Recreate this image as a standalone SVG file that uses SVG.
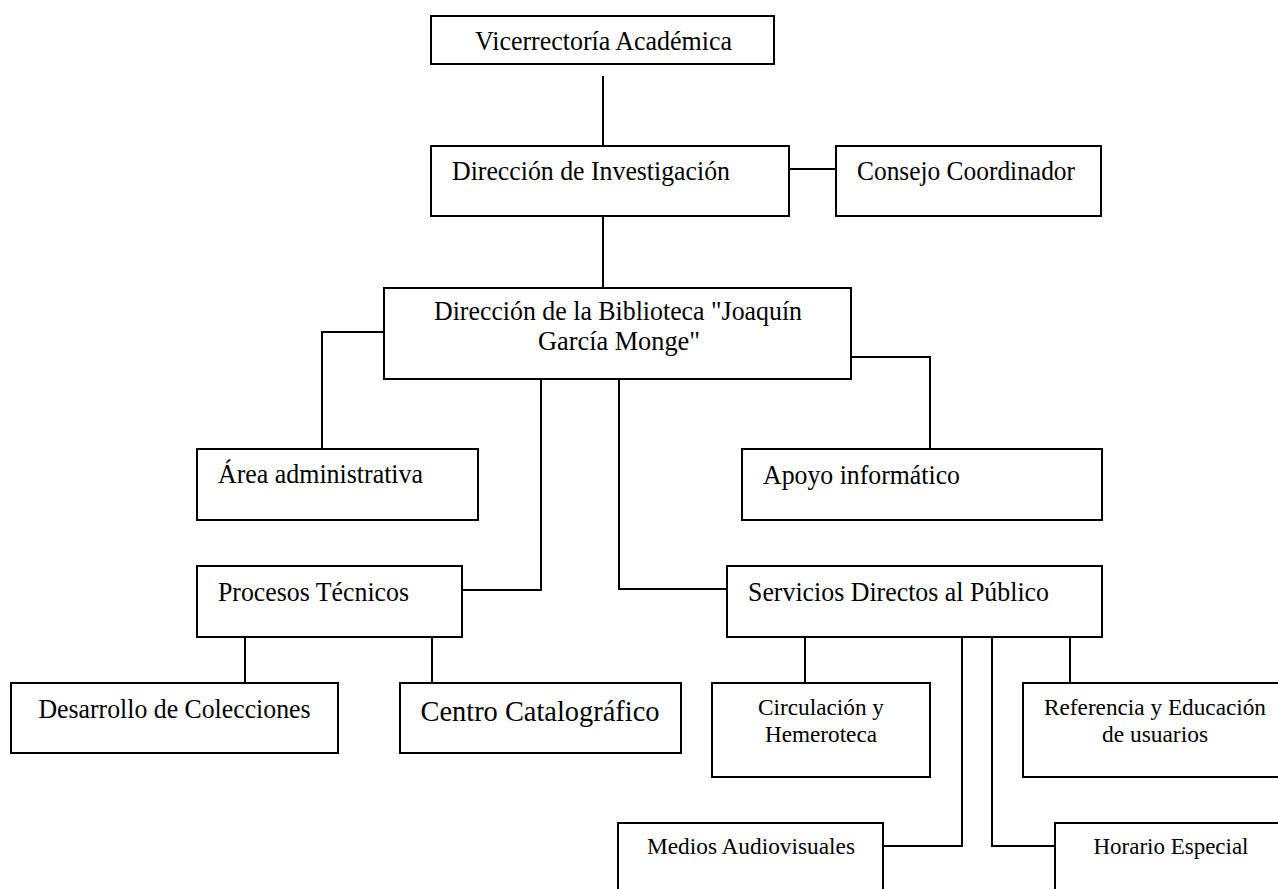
<svg xmlns="http://www.w3.org/2000/svg" width="1278" height="889" viewBox="0 0 1278 889">
<style>
.box{fill:#fff;stroke:#000;stroke-width:2}
.ln{fill:none;stroke:#000;stroke-width:2}
text{font-family:"Liberation Serif","Times New Roman",serif;fill:#000}
.t{font-size:27px}
.s{font-size:24px}
.l{font-size:30px}
.c{text-anchor:middle}
</style>
<rect width="1278" height="889" fill="#fff"/>
<g id="connectors">
<path class="ln" d="M603 76V146"/>
<path class="ln" d="M789 169H836"/>
<path class="ln" d="M603 216V288"/>
<path class="ln" d="M384 332H322V449"/>
<path class="ln" d="M851 357H930V449"/>
<path class="ln" d="M541 379V590H462"/>
<path class="ln" d="M619 379V589H727"/>
<path class="ln" d="M245 637V683"/>
<path class="ln" d="M432 637V683"/>
<path class="ln" d="M805 637V683"/>
<path class="ln" d="M1070 637V683"/>
<path class="ln" d="M962 637V846H883"/>
<path class="ln" d="M992 637V846H1055"/>
</g>
<g id="vicerrectoria"><rect class="box" x="431" y="16" width="343" height="48"/><text class="t c" x="603.5" y="50" textLength="257" lengthAdjust="spacingAndGlyphs">Vicerrectoría Académica</text></g>
<g id="direccion-investigacion"><rect class="box" x="431" y="146" width="358" height="70"/><text class="t" x="452" y="180" textLength="278" lengthAdjust="spacingAndGlyphs">Dirección de Investigación</text></g>
<g id="consejo"><rect class="box" x="836" y="146" width="265" height="70"/><text class="t" x="857" y="180" textLength="218" lengthAdjust="spacingAndGlyphs">Consejo Coordinador</text></g>
<g id="biblioteca"><rect class="box" x="384" y="288" width="467" height="91"/><text class="t c" x="618" y="320" textLength="368" lengthAdjust="spacingAndGlyphs">Dirección de la Biblioteca "Joaquín</text><text class="t c" x="619" y="350" textLength="162" lengthAdjust="spacingAndGlyphs">García Monge"</text></g>
<g id="area-administrativa"><rect class="box" x="197" y="449" width="281" height="71"/><text class="t" x="218" y="483" textLength="205" lengthAdjust="spacingAndGlyphs">Área administrativa</text></g>
<g id="apoyo"><rect class="box" x="742" y="449" width="360" height="71"/><text class="t" x="763" y="484" textLength="197" lengthAdjust="spacingAndGlyphs">Apoyo informático</text></g>
<g id="procesos"><rect class="box" x="197" y="566" width="265" height="71"/><text class="t" x="218" y="601" textLength="191" lengthAdjust="spacingAndGlyphs">Procesos Técnicos</text></g>
<g id="servicios"><rect class="box" x="727" y="566" width="375" height="71"/><text class="t" x="748" y="601" textLength="301" lengthAdjust="spacingAndGlyphs">Servicios Directos al Público</text></g>
<g id="desarrollo"><rect class="box" x="11" y="683" width="327" height="70"/><text class="t c" x="174.5" y="718" textLength="272" lengthAdjust="spacingAndGlyphs">Desarrollo de Colecciones</text></g>
<g id="centro"><rect class="box" x="400" y="683" width="281" height="70"/><text class="l c" x="540" y="721" textLength="239" lengthAdjust="spacingAndGlyphs">Centro Catalográfico</text></g>
<g id="circulacion"><rect class="box" x="712" y="683" width="218" height="94"/><text class="s c" x="821" y="715" textLength="126" lengthAdjust="spacingAndGlyphs">Circulación y</text><text class="s c" x="821" y="742" textLength="112" lengthAdjust="spacingAndGlyphs">Hemeroteca</text></g>
<g id="referencia"><rect class="box" x="1023" y="683" width="264" height="94"/><text class="s c" x="1155" y="715" textLength="222" lengthAdjust="spacingAndGlyphs">Referencia y Educación</text><text class="s c" x="1155" y="742" textLength="106" lengthAdjust="spacingAndGlyphs">de usuarios</text></g>
<g id="medios"><rect class="box" x="618" y="823" width="265" height="80"/><text class="s c" x="751" y="854" textLength="208" lengthAdjust="spacingAndGlyphs">Medios Audiovisuales</text></g>
<g id="horario"><rect class="box" x="1055" y="823" width="240" height="80"/><text class="s c" x="1171" y="854" textLength="155" lengthAdjust="spacingAndGlyphs">Horario Especial</text></g>
</svg>
